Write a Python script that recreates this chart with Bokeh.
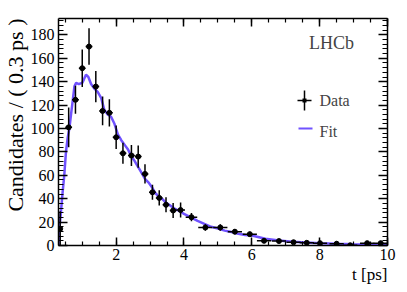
import numpy as np
from bokeh.plotting import figure
from bokeh.models import (LinearAxis, SingleIntervalTicker, Range1d, Label, Title,
                          Arrow, CustomJSTickFormatter)
from bokeh.embed import file_html
from bokeh.resources import INLINE

# ---- data ----
t_data = [0.35, 0.60, 0.80, 1.00, 1.20, 1.40, 1.60, 1.80, 2.00, 2.20, 2.45, 2.65,
          2.85, 3.07, 3.27, 3.47, 3.68, 3.90, 4.22, 4.63, 5.07, 5.50, 5.94, 6.36,
          6.80, 7.23, 7.62, 8.01, 8.50, 8.90, 9.40, 9.80]
n_data = [14.3, 101, 124.5, 151.5, 170, 135.8, 115, 113.4, 92.5, 78.8, 76.9, 76,
          61.2, 45.5, 40.7, 34.8, 29.9, 30.3, 24.2, 15.4, 15.4, 11.8, 9.7, 4.0,
          3.8, 2.8, 2.3, 2.0, 1.5, 0.2, 2.0, 2.0]
n_err = [15, 17, 12, 16, 15.6, 13.4, 12.3, 11.6, 10, 9, 9, 9.5,
         8.2, 6.4, 6.6, 6.4, 6.4, 6.4, 3.5, 2.8, 2.8, 2.2, 2.0, 1.7,
         1.5, 1.4, 1.2, 1.2, 1.0, 1.0, 0.9, 0.8]
t_halfwidth = [0.05, 0.1, 0.1, 0.1, 0.1, 0.1, 0.1, 0.1, 0.1, 0.1, 0.1, 0.1,
               0.1, 0.1, 0.1, 0.1, 0.1, 0.13, 0.17, 0.21, 0.21, 0.21, 0.21, 0.21,
               0.21, 0.21, 0.21, 0.21, 0.21, 0.21, 0.21, 0.21]

t_fit = [0.30, 0.32, 0.37, 0.42, 0.47, 0.52, 0.57, 0.62, 0.67, 0.72, 0.77, 0.82,
         0.90, 1.00, 1.05, 1.11, 1.18, 1.26, 1.36, 1.46, 1.56, 1.65, 1.75, 1.85,
         1.95, 2.05, 2.15, 2.25, 2.35, 2.45, 2.55, 2.65, 2.75, 2.85, 2.95, 3.05,
         3.15, 3.25, 3.35, 3.45, 3.55, 3.65, 3.75, 3.90, 4.00, 4.20, 4.40, 4.60,
         4.80, 5.00, 5.20, 5.40, 5.60, 5.80, 6.00, 6.40, 6.80, 7.20, 7.60, 8.00,
         8.50, 9.00, 9.50, 10.0]
n_fit = [0, 12, 28, 45, 60, 80, 92, 100, 112, 124, 136, 139,
         138, 139, 142, 146, 144, 138, 134, 131, 126, 116, 112, 110,
         104, 95, 90, 86, 82, 76, 72, 67, 62, 57, 54, 50,
         45, 42, 40, 37, 35, 33, 31, 29, 27, 24, 21, 18.5,
         16, 14.5, 12.7, 11.5, 10, 9, 8.5, 5.7, 4.2, 3.2, 2.5, 2.0,
         1.4, 1.1, 0.9, 0.8]

x_range = (0.3, 10.0)
y_range = (0, 194)

FONT = "Liberation Serif"
FIT_COLOR = "#7052ff"

t = np.array(t_data)
n = np.array(n_data)
e = np.array(n_err)
hw = np.array(t_halfwidth)

p = figure(width=407, height=292, output_backend="svg", toolbar_location=None,
           x_range=Range1d(*x_range), y_range=Range1d(*y_range),
           min_border_left=57, min_border_right=20, min_border_top=18,
           min_border_bottom=47)
p.grid.visible = False
p.outline_line_color = None
p.background_fill_color = "white"
p.border_fill_color = "white"

# main axes styling
for ax in (p.xaxis[0], p.yaxis[0]):
    ax.axis_line_width = 1.5
    ax.major_tick_line_width = 1.5
    ax.minor_tick_line_width = 1.2
    ax.major_tick_out = 0
    ax.minor_tick_out = 0
    ax.major_label_text_font = FONT
    ax.major_label_text_font_size = "16px"
    ax.major_label_text_color = "black"
    ax.axis_line_color = "black"
    ax.major_tick_line_color = "black"
    ax.minor_tick_line_color = "black"

p.xaxis[0].ticker = SingleIntervalTicker(interval=2, num_minor_ticks=4)
p.yaxis[0].ticker = SingleIntervalTicker(interval=20, num_minor_ticks=5)
p.xaxis[0].major_tick_in = 8
p.xaxis[0].minor_tick_in = 4
p.yaxis[0].major_tick_in = 9
p.yaxis[0].minor_tick_in = 5
p.xaxis[0].major_label_standoff = 3
p.yaxis[0].major_label_standoff = 4

# mirror axes (ticks only)
empty = CustomJSTickFormatter(code="return ''")
top = LinearAxis(ticker=SingleIntervalTicker(interval=2, num_minor_ticks=4), formatter=empty)
right = LinearAxis(ticker=SingleIntervalTicker(interval=20, num_minor_ticks=5), formatter=empty)
for ax, maj, mnr in ((top, 8, 4), (right, 9, 5)):
    ax.axis_line_width = 1.5
    ax.major_tick_line_width = 1.5
    ax.minor_tick_line_width = 1.2
    ax.major_tick_out = 0
    ax.minor_tick_out = 0
    ax.major_tick_in = maj
    ax.minor_tick_in = mnr
    ax.major_label_text_font_size = "1px"
    ax.major_label_standoff = 0
p.add_layout(top, "above")
p.add_layout(right, "right")

# axis titles
p.add_layout(Title(text="Candidates / ( 0.3 ps )", align="right",
                   text_font=FONT, text_font_size="22px", text_font_style="normal",
                   text_color="black", standoff=0, offset=0), "left")
p.add_layout(Title(text="t [ps]", align="right",
                   text_font=FONT, text_font_size="17px", text_font_style="normal",
                   text_color="black", standoff=0, offset=0), "below")

# fit curve
p.line(t_fit, n_fit, line_color=FIT_COLOR, line_width=2.5)

# data with error bars
p.segment(t, n - e, t, n + e, line_color="black", line_width=1.5)
p.segment(t - hw, n, t + hw, n, line_color="black", line_width=1.5)
p.scatter(t, n, size=5, color="black")

# legend (drawn in screen units relative to the frame)
def seg(x0, y0, x1, y1, color="black", width=1.5):
    p.add_layout(Arrow(end=None, x_start=x0, y_start=y0, x_end=x1, y_end=y1,
                       start_units="screen", end_units="screen",
                       line_color=color, line_width=width))

seg(246, 135, 246, 155)
seg(239, 145, 253, 145)
seg(244, 145, 248, 145, width=4)
seg(240, 117, 254, 117, color=FIT_COLOR, width=2)
p.add_layout(Label(x=261, y=145, x_units="screen", y_units="screen", text="Data",
                   text_font=FONT, text_font_size="16px", text_baseline="middle"))
p.add_layout(Label(x=261, y=114, x_units="screen", y_units="screen", text="Fit",
                   text_font=FONT, text_font_size="16px", text_baseline="middle"))

p.add_layout(Label(x=330 - 57, y=245 - 42, x_units="screen", y_units="screen",
                   text="LHCb", text_font=FONT, text_font_size="18px",
                   text_align="center", text_baseline="middle"))

open("out.html", "w").write(file_html(p, INLINE))
